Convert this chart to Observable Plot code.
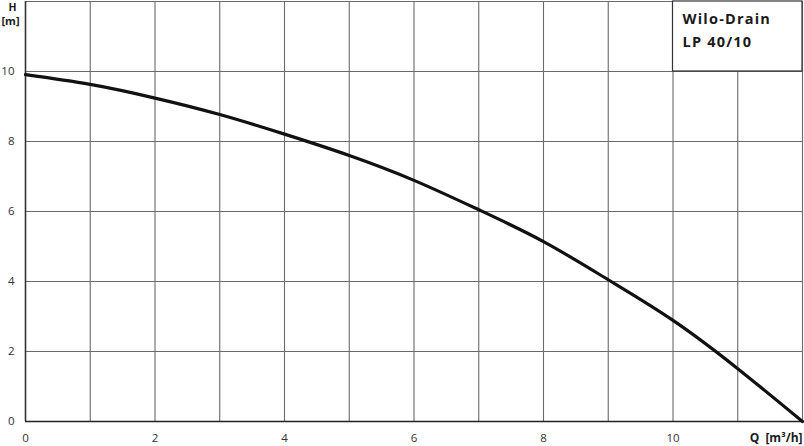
<!DOCTYPE html>
<html>
<head>
<meta charset="utf-8">
<script src="https://cdn.jsdelivr.net/npm/d3@7"></script>
<script src="https://cdn.jsdelivr.net/npm/@observablehq/plot@0.6"></script>
<style>
  html, body { margin: 0; padding: 0; background: #fff; }
  svg { display: block; }
  .title-text text { letter-spacing: 1.2px; }
</style>
</head>
<body>
<div id="chart"></div>
<script>
// Pump curve: flow Q [m³/h] vs head H [m]
const flowQ = [0, 1, 2, 3, 4, 5, 6, 7, 8, 9, 10, 11, 12];
const headH = [9.91, 9.63, 9.24, 8.77, 8.21, 7.60, 6.89, 6.05, 5.14, 4.05, 2.89, 1.51, 0];

const xTicks = [0, 2, 4, 6, 8, 10];
const yTicks = [0, 2, 4, 6, 8, 10];
const xGrid = [1, 2, 3, 4, 5, 6, 7, 8, 9, 10, 11];
const yGrid = [2, 4, 6, 8, 10, 12];
const xDomain = [0, 12];
const yDomain = [0, 12];

const titleLines = ["Wilo-Drain", "LP 40/10"];
const titleBox = [{q1: 10, q2: 12, h1: 10, h2: 12}];
const xLabel = "Q\u2002[m³/h]";
const yLabelTop = "H";
const yLabelUnit = "[m]";

const curve = flowQ.map((q, i) => ({q, h: headH[i]}));

const font = "'Open Sans', 'DejaVu Sans', sans-serif";

const chart = Plot.plot({
  width: 804,
  height: 446,
  marginTop: 1,
  marginRight: 2,
  marginBottom: 25,
  marginLeft: 25,
  style: {fontFamily: font, background: "#fff", color: "#222"},
  x: {domain: xDomain, axis: null},
  y: {domain: yDomain, axis: null},
  marks: [
    Plot.ruleX(xGrid, {stroke: "#6a6a6a", strokeWidth: 1.1}),
    Plot.ruleY(yGrid, {stroke: "#6a6a6a", strokeWidth: 1.1}),
    Plot.ruleX([12], {stroke: "#6a6a6a", strokeWidth: 1.1}),
    Plot.rect(titleBox, {x1: "q1", x2: "q2", y1: "h1", y2: "h2", fill: "#fff", stroke: "#333", strokeWidth: 1.2}),
    Plot.text([titleLines.join("\n")], {
      x: titleBox[0].q1, y: titleBox[0].h2, dx: 9.5, dy: 5.5,
      textAnchor: "start", lineAnchor: "top", lineHeight: 1.62,
      fontSize: 14.5, fontWeight: "bold", fill: "#1a1a1a", fontFamily: font,
      className: "title-text"
    }),
    Plot.ruleX([0], {stroke: "#333", strokeWidth: 1.6}),
    Plot.ruleY([0], {stroke: "#222", strokeWidth: 1.6}),
    Plot.line(curve, {x: "q", y: "h", curve: "natural", stroke: "#111", strokeWidth: 3.2}),
    Plot.axisX(xTicks, {tickSize: 0, tickPadding: 12, fontSize: 11.5, fill: "#333", fontFamily: font}),
    Plot.axisY(yTicks, {tickSize: 0, tickPadding: 11, fontSize: 11.5, fill: "#333", fontFamily: font}),
    Plot.text([xLabel], {x: xDomain[1], y: 0, dy: 12, textAnchor: "end", lineAnchor: "top", fontSize: 12, fontWeight: "bold", fill: "#1a1a1a", fontFamily: font}),
    Plot.text([yLabelTop], {x: 0, y: yDomain[1], dx: -13, dy: 2, textAnchor: "middle", lineAnchor: "top", fontSize: 10.5, fontWeight: "bold", fill: "#1a1a1a", fontFamily: font}),
    Plot.text([yLabelUnit], {x: 0, y: yDomain[1], dx: -15, dy: 15.5, textAnchor: "middle", lineAnchor: "top", fontSize: 11, fontWeight: "bold", fill: "#1a1a1a", fontFamily: font})
  ]
});
document.getElementById("chart").appendChild(chart);
</script>
</body>
</html>
